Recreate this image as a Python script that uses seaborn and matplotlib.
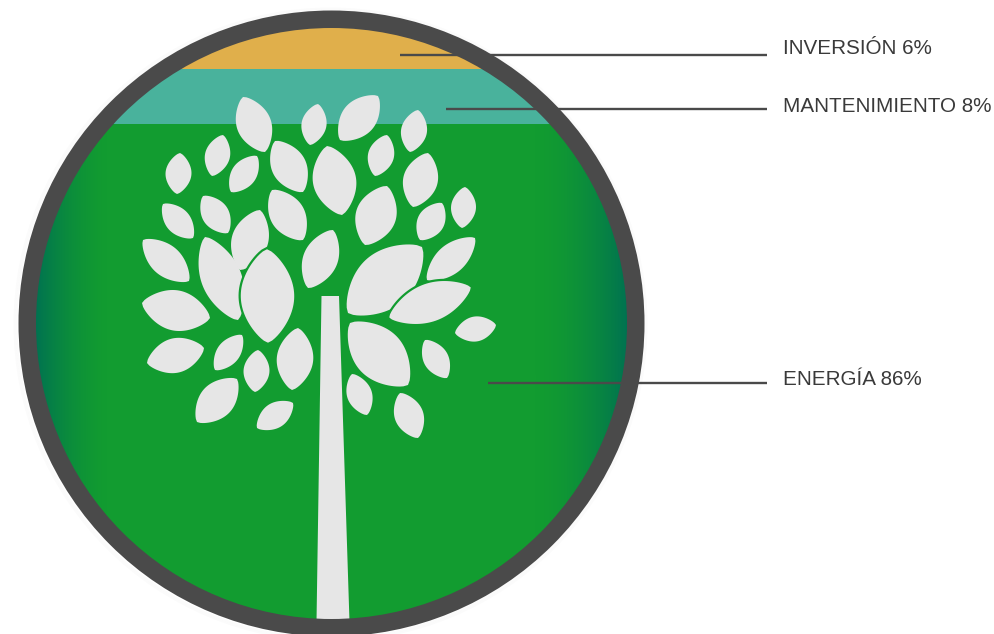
import numpy as np
import matplotlib
matplotlib.use("Agg")
import matplotlib.pyplot as plt
from matplotlib.patches import Circle, Polygon
from matplotlib.colors import LinearSegmentedColormap
import seaborn as sns

# datos
conceptos = ["INVERSIÓN", "MANTENIMIENTO", "ENERGÍA"]
porcentajes = [6, 8, 86]
# alto de cada franja, en % del diametro interior
alto_franjas = [6.9, 9.4, 83.7]
colores = ["#E0AF4B", "#49B29C", "#129C30"]
etiqueta_y = [53.5, 111.5, 385]
linea_y = [54.5, 109, 382.5]
linea_x0 = [400, 446, 488]

ANCHO, ALTO = 995, 634
CX, CY = 331.5, 323.5
R_INT = 295.5
R_EXT = 313
GRIS = "#4A4A4A"
HOJA = "#E6E6E6"

# hojas: punta a punta y ancho (x1, y1, x2, y2, ancho), en pixeles del dibujo
hojas = [
    (243, 97, 265, 152, 36), (318, 104, 310, 145, 26), (378, 96, 340, 140, 36),
    (418, 110, 410, 152, 27), (223, 135, 212, 176, 26), (257, 156, 231, 192, 26),
    (180, 153, 177, 194, 27), (275, 141, 303, 192, 36), (327, 146, 342, 215, 45),
    (387, 135, 375, 176, 27), (428, 153, 413, 207, 36), (387, 186, 365, 245, 42),
    (442, 203, 420, 240, 28), (465, 187, 462, 228, 26), (163, 204, 193, 238, 26),
    (203, 196, 228, 233, 28), (272, 190, 303, 240, 36), (260, 210, 240, 270, 38),
    (143, 240, 189, 281, 32), (205, 237, 238, 320, 42), (333, 230, 308, 288, 36),
    (422, 247, 348, 313, 58), (475, 238, 427, 280, 30), (142, 303, 210, 318, 42),
    (204, 348, 147, 363, 36), (242, 335, 215, 370, 24), (258, 350, 255, 392, 27),
    (298, 328, 292, 390, 38), (350, 323, 408, 385, 52), (496, 325, 455, 333, 26),
    (425, 340, 447, 378, 26), (352, 374, 367, 415, 26), (400, 393, 418, 438, 30),
    (237, 379, 197, 422, 36), (293, 403, 257, 428, 26),
]
# estas dos van encima de otras, con borde verde
hojas_encima = [(267, 248, 268, 344, 58), (472, 287, 388, 318, 42)]


def hoja_puntos(x1, y1, x2, y2, ancho):
    p1 = np.array([x1, y1], dtype=float)
    eje = np.array([x2, y2], dtype=float) - p1
    normal = np.array([-eje[1], eje[0]]) / np.hypot(eje[0], eje[1])
    t = np.linspace(0, 1, 40)
    medio = 0.96 * ancho / 2 * np.sin(np.pi * t) ** 0.7
    lado_a = p1 + np.outer(t, eje) + np.outer(medio, normal)
    lado_b = p1 + np.outer(t, eje) - np.outer(medio, normal)
    return np.vstack([lado_a, lado_b[::-1]])


sns.set_theme(style="white")
plt.rcParams["font.family"] = ["Liberation Sans", "DejaVu Sans"]

fig = plt.figure(figsize=(ANCHO / 100, ALTO / 100), dpi=100)

# capa de dibujo en pixeles
ax = fig.add_axes([0, 0, 1, 1], zorder=2)
ax.set_xlim(0, ANCHO)
ax.set_ylim(ALTO, 0)
ax.axis("off")
ax.patch.set_alpha(0)

# franjas apiladas, recortadas por el circulo
ax_f = fig.add_axes([(CX - R_INT) / ANCHO, 1 - (CY + R_INT) / ALTO,
                     2 * R_INT / ANCHO, 2 * R_INT / ALTO], zorder=1)
clip = Circle((CX, CY), R_INT + 2, transform=ax.transData)
base = 0
for alto, color in zip(alto_franjas, colores):
    sns.barplot(x=["circulo"], y=[alto], bottom=base, color=color, width=1,
                saturation=1, ax=ax_f)
    base += alto
for barra in ax_f.patches:
    barra.set_clip_path(clip)
    barra.set_linewidth(0)
ax_f.set_xlim(-0.5, 0.5)
ax_f.set_ylim(100, 0)
ax_f.axis("off")

# oscurecido de los bordes, solo en la franja verde
cmap = LinearSegmentedColormap.from_list("borde", [(0, 0.45, 0.32, 0), (0, 0.45, 0.32, 1)])
xs = np.arange(0, ANCHO, dtype=float)
intensidad = np.maximum(np.clip((110 - xs) / 75, 0, 1) ** 1.6,
                        np.clip((xs - 530) / 97, 0, 1) ** 1.8)
img = ax.imshow(intensidad[np.newaxis, :], extent=(0, ANCHO, ALTO, 125), cmap=cmap,
                vmin=0, vmax=1, aspect="auto", zorder=2)
img.set_clip_path(Circle((CX, CY), R_INT + 2, transform=ax.transData))
ax.set_xlim(0, ANCHO)
ax.set_ylim(ALTO, 0)

# sombra suave y aro
for i in range(2):
    ax.add_patch(Circle((CX - 1, CY + 1), R_EXT + 1 + 2 * i, fc="none", ec="#000000",
                        lw=1.5, alpha=0.015, zorder=2))
ax.add_patch(Circle((CX, CY), (R_INT + R_EXT) / 2, fc="none", ec=GRIS,
                    lw=(R_EXT - R_INT) * 0.72, zorder=5))

# tronco
tronco = Polygon([(321.5, 296), (339, 296), (349.5, 622), (316.5, 622)], fc=HOJA, lw=0, zorder=3)
ax.add_patch(tronco)

# copa
for hoja in hojas:
    ax.add_patch(Polygon(hoja_puntos(*hoja), fc=HOJA, lw=0, zorder=3))
for hoja in hojas_encima:
    ax.add_patch(Polygon(hoja_puntos(*hoja), fc=HOJA, ec="#129C30", lw=1.6, zorder=4))

# lineas y etiquetas
for concepto, pct, ty, ly, x0 in zip(conceptos, porcentajes, etiqueta_y, linea_y, linea_x0):
    ax.plot([x0, 767], [ly, ly], color=GRIS, lw=1.7, solid_capstyle="butt", zorder=6)
    ax.text(783, ty, f"{concepto} {pct}%", fontsize=14.85, color="#3A3A3A",
            va="baseline", ha="left", zorder=6)

fig.savefig("out.png", dpi=100)
